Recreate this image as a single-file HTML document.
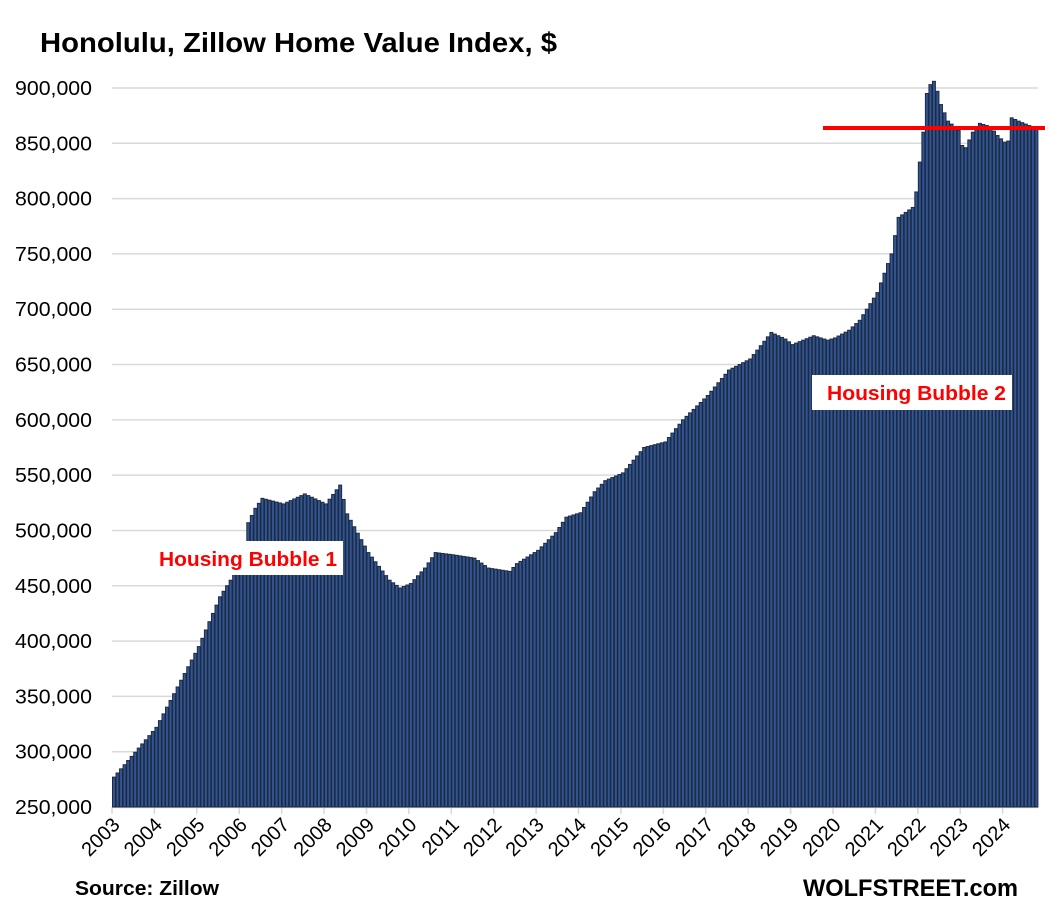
<!DOCTYPE html>
<html><head><meta charset="utf-8"><style>
body{margin:0;background:#fff;}
svg{display:block;font-family:"Liberation Sans",Arial,sans-serif;}
</style></head><body>
<svg id="c" width="1045" height="914" xmlns="http://www.w3.org/2000/svg">
<rect width="1045" height="914" fill="#fff"/>
<text x="40" y="52" font-size="28" font-weight="bold" fill="#000" textLength="517" lengthAdjust="spacingAndGlyphs">Honolulu, Zillow Home Value Index, $</text>
<g id="grid"></g>
<g id="bars"></g>
<g id="lab"></g>
<line x1="823" y1="128" x2="1045" y2="128" stroke="#ff0000" stroke-width="4"/>
<rect x="152" y="541" width="191" height="34" fill="#fff"/>
<text x="159" y="566" font-size="20" font-weight="bold" fill="#ff0000" textLength="178" lengthAdjust="spacingAndGlyphs">Housing Bubble 1</text>
<rect x="812" y="375" width="200" height="35" fill="#fff"/>
<text x="827" y="400" font-size="20" font-weight="bold" fill="#ff0000" textLength="179" lengthAdjust="spacingAndGlyphs">Housing Bubble 2</text>
<text x="75" y="895" font-size="20" font-weight="bold" fill="#000" textLength="144" lengthAdjust="spacingAndGlyphs">Source: Zillow</text>
<text x="803" y="896" font-size="24" font-weight="bold" fill="#000" textLength="215" lengthAdjust="spacingAndGlyphs">WOLFSTREET.com</text>
</svg>
<script>
var NS="http://www.w3.org/2000/svg";
function Y(v){return 807-(v-250000)*0.0011062;}
var g=document.getElementById('grid'),b=document.getElementById('bars'),l=document.getElementById('lab');
function el(p,t,a,txt){var e=document.createElementNS(NS,t);for(var k in a)e.setAttribute(k,a[k]);if(txt)e.textContent=txt;p.appendChild(e);return e;}
for(var v=250000;v<=900000;v+=50000){var y=Y(v);
 if(v>250000)el(g,'line',{x1:112,x2:1038,y1:y,y2:y,stroke:'#d9d9d9','stroke-width':1.5});
 el(l,'text',{x:92,y:y+7,'font-size':20,'text-anchor':'end',fill:'#000',textLength:77,lengthAdjust:'spacingAndGlyphs'},v.toLocaleString('en-US'));}
el(g,'line',{x1:112,x2:1038,y1:807.5,y2:807.5,stroke:'#d9d9d9','stroke-width':1.5});
var k=[[0,277],[12,322],[24,395],[30,440],[36,470],[38,507],[40,520],[42,529],[48,524],[54,533],[60,524],[64,541],[66,515],[72,480],[78,455],[81,448],[84,452],[88,466],[91,480],[96,478],[102,475],[106,466],[112,463],[114,470],[118,478],[120,482],[125,498],[128,512],[132,516],[136,535],[139,545],[144,552],[150,575],[156,580],[161,600],[168,622],[174,645],[180,655],[186,679],[190,673],[192,668],[198,676],[202,672],[204,674],[208,681],[211,690],[216,715],[220,750],[222,783],[226,792],[227,806],[228,833],[229,860],[230,895],[231,903],[232,906],[233,897],[234,885],[236,870],[239,862],[240,848],[241,846],[243,860],[245,868],[248,865],[250,857],[252,851],[253,852],[254,873],[256,870],[259,866],[261,864]];
function val(i){for(var j=0;j<k.length-1;j++){if(i>=k[j][0]&&i<=k[j+1][0]){var t=(i-k[j][0])/(k[j+1][0]-k[j][0]);return (k[j][1]+t*(k[j+1][1]-k[j][1]))*1000;}}return 864000;}
var w=926/262;
for(var i=0;i<262;i++){var x=112+i*w,y=Y(val(i));
 el(b,'rect',{x:x+0.5,y:y,width:w-0.6,height:807-y,fill:'#2f5597',stroke:'#1f2a3c','stroke-width':1});}
for(var yr=0;yr<22;yr++){var x=112+yr*12*w;
 el(g,'line',{x1:x,x2:x,y1:807,y2:814,stroke:'#d9d9d9','stroke-width':1.5});
 el(l,'text',{x:0,y:0,'font-size':20,'text-anchor':'end',fill:'#000',transform:'translate('+(x+9)+',826) rotate(-45)'},String(2003+yr));}
</script>
</body></html>
